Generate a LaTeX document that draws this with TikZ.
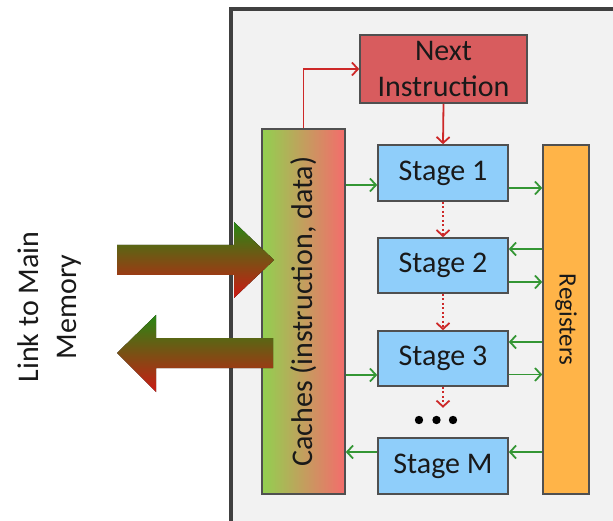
\documentclass[tikz,border=0pt]{standalone}
\usepackage{fontspec}
\setmainfont{Carlito}
\usetikzlibrary{arrows.meta,calc}

\definecolor{framebg}{RGB}{242,242,242}
\definecolor{frameline}{RGB}{64,64,64}
\definecolor{boxline}{RGB}{80,80,80}
\definecolor{nextfill}{RGB}{216,92,94}
\definecolor{stagefill}{RGB}{143,206,250}
\definecolor{regfill}{RGB}{255,180,72}
\definecolor{cachegreen}{RGB}{146,208,80}
\definecolor{cachered}{RGB}{244,108,108}
\definecolor{wiregreen}{RGB}{52,150,52}
\definecolor{wirered}{RGB}{205,40,40}
\definecolor{fatgreen}{RGB}{40,135,20}
\definecolor{fatred}{RGB}{205,25,20}

\tikzset{
  box/.style={draw=boxline, line width=1.6pt, inner sep=0pt, font=\fontsize{30}{36}\selectfont, text=black!90},
  stagebox/.style={box, fill=stagefill, minimum width=130pt},
  garr/.style={draw=wiregreen, line width=1.8pt, -{Straight Barb[length=6pt,width=13pt]}},
  rarr/.style={draw=wirered, line width=1.8pt, -{Straight Barb[length=6pt,width=13pt]}},
  rdot/.style={rarr, dash pattern=on 2pt off 2.5pt},
  fatarrow/.style={top color=fatgreen, bottom color=fatred, draw=none}
}

\begin{document}
\begin{tikzpicture}[x=1pt,y=-1pt]
\useasboundingbox (0,0) rectangle (613,521);
\clip (0,0) rectangle (613,521);

% processor frame
\draw[fill=framebg, draw=frameline, line width=3.5pt] (231,9) rectangle (640,540);

% blocks
\node[box, fill=nextfill, minimum width=167pt, minimum height=68pt, align=center]
  (next) at (443.5,69) {Next\\Instruction};
\node[box, left color=cachegreen, right color=cachered, minimum width=83pt, minimum height=365pt]
  (cache) at (303.5,311.5) {};
\node[font=\fontsize{30}{36}\selectfont, text=black!90, rotate=90] at (cache.center) {Caches (instruction, data)};
\node[stagebox, minimum height=56pt] (s1) at (443,173) {Stage 1};
\node[stagebox, minimum height=55pt] (s2) at (443,265.5) {Stage 2};
\node[stagebox, minimum height=55pt] (s3) at (443,358.5) {Stage 3};
\node[stagebox, minimum height=56pt] (sM) at (443,466) {Stage M};
\node[box, fill=regfill, minimum width=46pt, minimum height=349pt] (reg) at (566,319.5) {};
\node[font=\fontsize{25}{30}\selectfont, text=black!90, rotate=-90] at (reg.center) {Registers};

% instruction flow
\draw[rarr] (cache.north) |- (next.west);
\draw[rarr] (next.south) -- (s1.north);
\draw[rdot] (s1.south) -- (s2.north);
\draw[rdot] (s2.south) -- (s3.north);
\coordinate (more) at ($(s3.south)+(0,21)$);
\draw[rdot] (s3.south) -- (more);

% ellipsis between stage 3 and stage M
\fill[black] (419,420) circle (4.2pt) (436.5,420) circle (4.2pt) (453,420) circle (4.2pt);

% data paths
\coordinate (a1) at ($(s1.west)+(0,12)$);
\draw[garr] (cache.east |- a1) -- (a1);
\coordinate (b1) at ($(s1.east)+(0,15)$);
\draw[garr] (b1) -- (reg.west |- b1);
\coordinate (b2) at ($(s2.east)+(0,-16.5)$);
\draw[garr] (reg.west |- b2) -- (b2);
\coordinate (c2) at ($(s2.east)+(0,16.5)$);
\draw[garr] (c2) -- (reg.west |- c2);
\coordinate (b3) at ($(s3.east)+(0,-16.5)$);
\draw[garr] (reg.west |- b3) -- (b3);
\coordinate (a3) at ($(s3.west)+(0,16.5)$);
\draw[garr] (cache.east |- a3) -- (a3);
\coordinate (c3) at ($(s3.east)+(0,16)$);
\draw[garr] (c3) -- (reg.west |- c3);
\coordinate (bM) at ($(sM.east)+(0,-14)$);
\draw[garr] (reg.west |- bM) -- (bM);
\coordinate (aM) at ($(sM.west)+(0,-14)$);
\draw[garr] (aM) -- (cache.east |- aM);

% link to main memory
\fill[fatarrow] (117,245) -- (234,245) -- (234,222) -- (274,260) -- (234,298)
  -- (234,275) -- (117,275) -- cycle;
\fill[fatarrow] (273,338) -- (156,338) -- (156,315) -- (117,353) -- (156,392)
  -- (156,368) -- (273,368) -- cycle;
\node[font=\fontsize{30}{38}\selectfont, text=black!90, rotate=90, align=center]
  (link) at (50,307) {Link to Main\\Memory};
\end{tikzpicture}
\end{document}
